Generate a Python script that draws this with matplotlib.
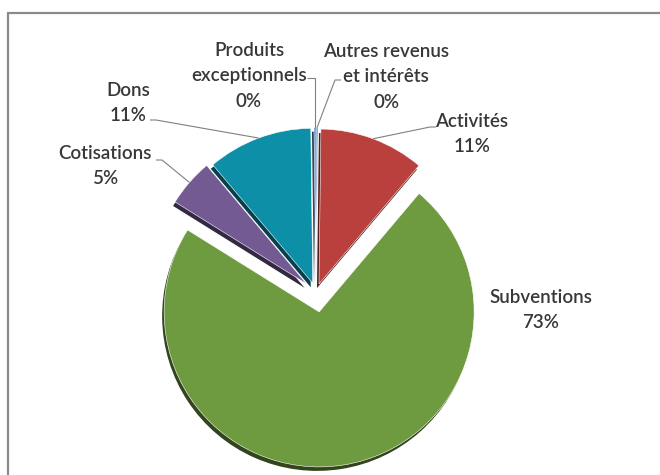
import numpy as np
import matplotlib
matplotlib.use("Agg")
import matplotlib.pyplot as plt
import matplotlib.colors as mcolors
from matplotlib.patches import Rectangle

# ── data (clockwise from 12 o'clock) ─────────────────────────────────────────
labels = ["Autres revenus\net intérêts", "Activités", "Subventions",
          "Cotisations", "Dons", "Produits\nexceptionnels"]
values = [0.2, 11, 73, 5, 11, 0.2]

colors = ["#4F81BD", "#B9403D", "#6E9A40", "#735A93", "#0E8FA8", "#4F81BD"]
explode = [0.06, 0.055, 0.13, 0.08, 0.06, 0.06]

# label centres and leader anchor points, in pixels from the top-left corner
label_xy = [(386, 77), (472, 134), (541, 310), (105, 166), (128, 103), (249, 76)]
anchor_xy = [(341, 80), (436, 127), None, (156, 160), (150, 120), (307, 78)]

W, H, DPI = 660, 475, 100
R_PX = 155            # pie radius in pixels
CX, CY = 316, 292     # pie centre in pixels (y from top)
TEXT = "#383838"
LEAD = "#808080"

fig = plt.figure(figsize=(W / DPI, H / DPI), dpi=DPI, facecolor="white")
ax = fig.add_axes([0, 0, 1, 1])


def px(x, y):
    return (x - CX) / R_PX, (CY - y) / R_PX


# side of the 3D pie: a darker copy a few pixels lower
side = [tuple(np.array(mcolors.to_rgb(c)) * 0.45) for c in colors]
ax.pie(values, colors=side, explode=explode, startangle=90, counterclock=False,
       radius=1.0, center=(-2 / R_PX, -4 / R_PX), frame=True,
       wedgeprops=dict(linewidth=0))
wedges, _ = ax.pie(values, colors=colors, explode=explode, startangle=90,
                   counterclock=False, radius=1.0, frame=True,
                   wedgeprops=dict(linewidth=0.4, edgecolor="white"))
ax.set_xlim(-CX / R_PX, (W - CX) / R_PX)
ax.set_ylim((CY - H) / R_PX, CY / R_PX)
ax.set_aspect("auto")
ax.axis("off")

total = sum(values)
for w, lab, v, lxy, axy in zip(wedges, labels, values, label_xy, anchor_xy):
    pct = round(v / total * 100)
    tx, ty = px(*lxy)
    ax.text(tx, ty, f"{lab}\n{pct}%", ha="center", va="center", color=TEXT,
            fontsize=13.5, family="Lato", fontweight="semibold", linespacing=1.6)
    if axy is None:
        continue
    mid = np.deg2rad((w.theta1 + w.theta2) / 2)
    cx, cy = w.center
    ex, ey = cx + w.r * np.cos(mid), cy + w.r * np.sin(mid)
    sx, sy = px(*axy)
    if lab.startswith("Produits"):
        xs, ys = [sx, ex, ex], [sy, sy, ey]
    else:
        stub = 6 / R_PX * (1 if ex > sx else -1)
        xs, ys = [sx, sx + stub, ex], [sy, sy, ey]
    ax.plot(xs, ys, color=LEAD, lw=0.8, solid_capstyle="butt")

# chart area border (cropped on the right and bottom)
fig.patches.append(Rectangle((7.5 / W, -0.05), 1.1, 1.05 - 13.5 / H,
                             transform=fig.transFigure, fill=False,
                             edgecolor="#8a8a8a", linewidth=1.6))

fig.savefig("out.png", dpi=DPI, facecolor="white")
